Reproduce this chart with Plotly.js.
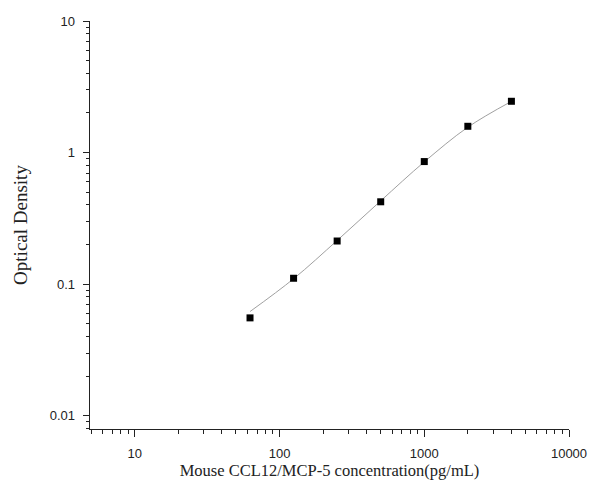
<!DOCTYPE html>
<html>
<head>
<meta charset="utf-8">
<script src="https://cdn.plot.ly/plotly-3.0.1.min.js"></script>
<style>html,body{margin:0;padding:0;background:#fff;}#chart{width:589px;height:493px;}</style>
</head>
<body>
<div id="chart"></div>
<script>
const concentration = [62.5, 125, 250, 500, 1000, 2000, 4000];
const opticalDensity = [0.0555, 0.111, 0.213, 0.423, 0.855, 1.585, 2.455];
const fitConcentration = [62.5, 125, 250, 500, 1000, 2000, 4000];
const fitDensity = [0.062, 0.110, 0.215, 0.430, 0.850, 1.560, 2.450];
const xTickVals = [10, 100, 1000, 10000];
const xTickText = ['10', '100', '1000', '10000'];
const yTickVals = [0.01, 0.1, 1, 10];
const yTickText = ['0.01', '0.1', '1', '10'];

const traces = [
  {
    x: fitConcentration, y: fitDensity, type: 'scatter', mode: 'lines',
    line: {color: '#a0a0a0', width: 1, shape: 'spline'}, hoverinfo: 'skip'
  },
  {
    x: concentration, y: opticalDensity, type: 'scatter', mode: 'markers',
    marker: {symbol: 'square', size: 7, color: '#000'}
  }
];

const tickFont = {family: 'Liberation Sans, Arial, sans-serif', size: 13, color: '#222'};

const layout = {
  width: 589, height: 493,
  margin: {l: 90, r: 20, t: 21, b: 64},
  paper_bgcolor: '#fff', plot_bgcolor: '#fff',
  showlegend: false,
  xaxis: {
    type: 'log', range: [Math.log10(4.9), 4],
    tickvals: xTickVals, ticktext: xTickText,
    ticks: 'outside', ticklen: 7, tickwidth: 1, tickcolor: '#222',
    ticklabelstandoff: 5,
    minor: {ticks: 'outside', ticklen: 4, tickwidth: 1, tickcolor: '#222', dtick: 'D1', showgrid: false},
    showline: true, linecolor: '#222', linewidth: 1.4,
    showgrid: false, zeroline: false,
    tickfont: tickFont,
    title: {text: 'Mouse CCL12/MCP-5 concentration(pg/mL)', font: {family: 'Liberation Serif, Times New Roman, serif', size: 16.5, color: '#222'}, standoff: 3}
  },
  yaxis: {
    type: 'log', range: [-2.1, 1],
    tickvals: yTickVals, ticktext: yTickText,
    ticks: 'outside', ticklen: 6, tickwidth: 1, tickcolor: '#222',
    ticklabelstandoff: 5,
    minor: {ticks: 'outside', ticklen: 3, tickwidth: 1, tickcolor: '#222', dtick: 'D1', showgrid: false},
    showline: true, linecolor: '#222', linewidth: 1.4,
    showgrid: false, zeroline: false,
    tickfont: tickFont,
    title: {text: 'Optical Density', font: {family: 'Liberation Serif, Times New Roman, serif', size: 19, color: '#222'}, standoff: 17}
  }
};

Plotly.newPlot('chart', traces, layout, {displayModeBar: false, staticPlot: true});
</script>
</body>
</html>
